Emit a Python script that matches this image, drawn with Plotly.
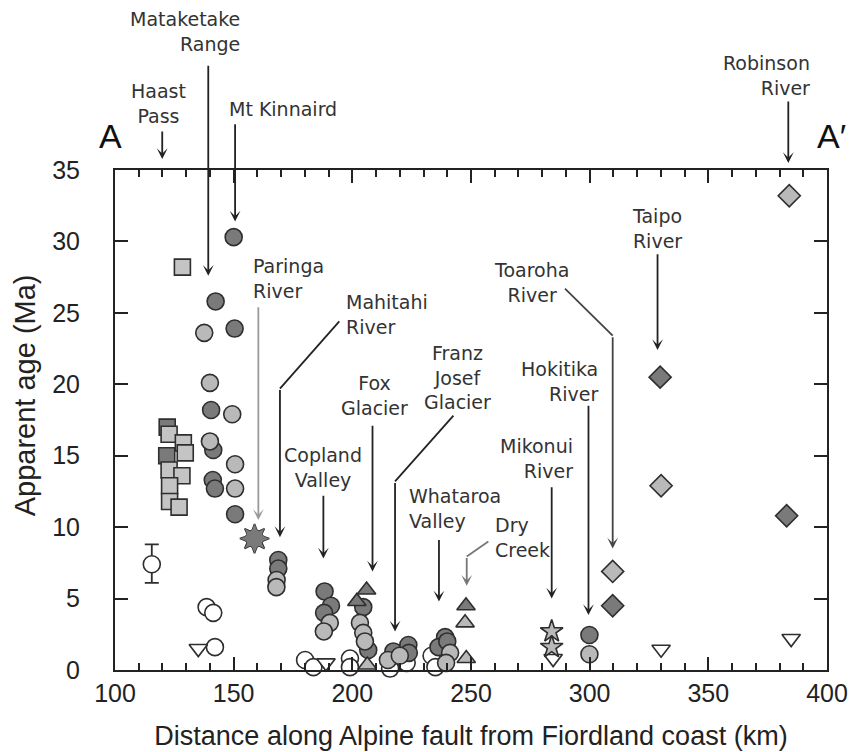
import plotly.graph_objects as go

# ---------------- data (distance km, apparent age Ma) ----------------
sq_light_x = [128.4, 122.8, 128.8, 129.6, 122.8, 128.2, 123.0, 123.0, 127.0]
sq_light_y = [28.2, 16.5, 15.9, 15.2, 14.0, 13.6, 12.9, 11.8, 11.4]
sq_dark_x = [122.0, 121.8]
sq_dark_y = [17.0, 15.0]

circ_dark_x = [150.0, 142.4, 150.4, 140.5, 141.4, 141.2, 142.1, 150.6,
               168.8, 168.8, 188.3, 191.0, 188.1, 204.6, 206.7,
               217.3, 223.6, 223.8, 239.1, 236.3, 240.0, 299.9]
circ_dark_y = [30.3, 25.8, 23.9, 18.2, 15.4, 13.3, 12.7, 10.9,
               7.7, 7.1, 5.5, 4.5, 4.0, 4.4, 1.4,
               1.3, 1.75, 1.2, 2.3, 1.6, 2.0, 2.45]

circ_light_x = [137.6, 140.0, 149.4, 140.0, 150.6, 150.6, 168.1, 168.0,
                190.5, 188.0, 203.2, 204.6, 205.3, 215.0, 220.0,
                241.2, 239.5, 299.9]
circ_light_y = [23.6, 20.1, 17.9, 16.0, 14.4, 12.7, 6.3, 5.8,
                3.3, 2.7, 3.3, 2.6, 2.0, 0.7, 1.0,
                1.2, 0.5, 1.1]

circ_open_x = [138.6, 141.4, 142.1, 180.1, 183.6, 199.0, 199.0, 215.9, 222.9, 233.4, 235.0]
circ_open_y = [4.4, 4.0, 1.6, 0.7, 0.2, 0.8, 0.2, 0.1, 0.5, 1.0, 0.2]

errbar_x = [115.5]
errbar_y = [7.4]
errbar_plus = [1.4]
errbar_minus = [1.3]

invtri_open_x = [135.1, 188.9, 284.6, 330.1, 384.9]
invtri_open_y = [1.5, 0.5, 0.8, 1.45, 2.2]

tri_dark_x = [206.0, 201.9, 247.9]
tri_dark_y = [5.6, 4.8, 4.5]
tri_light_x = [206.3, 247.5, 248.0]
tri_light_y = [0.35, 3.3, 0.8]

dia_dark_x = [309.7, 329.7, 383.0]
dia_dark_y = [4.5, 20.5, 10.8]
dia_light_x = [309.7, 330.1, 384.1]
dia_light_y = [6.9, 12.9, 33.2]

star_dark_x = [158.8]
star_dark_y = [9.2]
star_light_x = [284.0, 284.0]
star_light_y = [2.7, 1.6]

x_ticks = [100, 150, 200, 250, 300, 350, 400]
y_ticks = [0, 5, 10, 15, 20, 25, 30, 35]

# locality labels placed inside the plot: (text, x, y, xanchor)
inner_labels = [
    ("Paringa<br>River", 157.3, 27.4, "left"),
    ("Mahitahi<br>River", 196.6, 24.9, "left"),
    ("Copland<br>Valley", 187.7, 14.2, "center"),
    ("Fox<br>Glacier", 209.4, 19.2, "center"),
    ("Franz<br>Josef<br>Glacier", 244.1, 20.5, "center"),
    ("Whataroa<br>Valley", 223.0, 11.3, "left"),
    ("Dry<br>Creek", 259.3, 9.3, "left"),
    ("Mikonui<br>River", 293.8, 14.8, "right"),
    ("Hokitika<br>River", 304.4, 20.2, "right"),
    ("Toaroha<br>River", 275.3, 27.1, "center"),
    ("Taipo<br>River", 328.2, 30.9, "center"),
]
# labels above the plot: (text, x (km), y (paper), xanchor)
outer_labels = [
    ("Mataketake<br>Range", 153.5, 1.277, "right"),
    ("Haast<br>Pass", 118.5, 1.134, "center"),
    ("Mt Kinnaird", 147.2, 1.122, "left"),
    ("Robinson<br>River", 393.7, 1.19, "right"),
]
# straight arrows: (head x, head y, tail x, tail y, colour)
arrows = [
    (139.3, 27.6, 139.3, 42.4, "#222"),   # Mataketake
    (150.6, 31.4, 150.6, 38.3, "#222"),   # Mt Kinnaird
    (160.4, 10.5, 160.4, 25.5, "#9a9a9a"),  # Paringa
    (169.5, 9.3, 169.5, 19.7, "#222"),    # Mahitahi
    (187.8, 7.8, 187.8, 12.3, "#222"),    # Copland
    (208.5, 6.9, 208.5, 17.2, "#222"),    # Fox
    (218.0, 2.7, 218.0, 13.2, "#222"),    # Franz Josef
    (236.5, 4.8, 236.5, 9.2, "#222"),     # Whataroa
    (248.2, 5.9, 248.2, 7.95, "#777"),    # Dry Creek
    (284.0, 5.0, 284.0, 12.9, "#222"),    # Mikonui
    (299.5, 3.85, 299.5, 18.6, "#222"),   # Hokitika
    (309.7, 8.5, 309.7, 23.4, "#444"),    # Toaroha
    (328.6, 22.4, 328.6, 29.2, "#222"),   # Taipo
]
# bent leader segments: (x0, y0, x1, y1, colour)
leaders = [
    (194.5, 24.4, 169.5, 19.7, "#222"),
    (242.6, 17.8, 218.0, 13.2, "#222"),
    (257.3, 9.0, 248.2, 7.95, "#777"),
    (289.6, 26.7, 309.7, 23.4, "#444"),
]

DARK = "#7a7a7a"
LIGHT = "#b9b9b9"
EDGE = "#2e2e2e"

fig = go.Figure()

def add(xs, ys, symbol, fill, size=17, lw=1.6):
    fig.add_trace(go.Scatter(
        x=xs, y=ys, mode="markers", cliponaxis=False, showlegend=False,
        hoverinfo="skip",
        marker=dict(symbol=symbol, size=size, color=fill,
                    line=dict(color=EDGE if lw > 0 else fill, width=lw))))

add(sq_dark_x, sq_dark_y, "square", DARK, 16)
add(sq_light_x, sq_light_y, "square", "#c4c4c4", 16)
add(circ_open_x, circ_open_y, "circle", "white")
add(circ_dark_x, circ_dark_y, "circle", DARK)
add(circ_light_x, circ_light_y, "circle", LIGHT)
add(invtri_open_x, invtri_open_y, "triangle-down", "white", 16)
add(tri_dark_x, tri_dark_y, "triangle-up", DARK, 16)
add(tri_light_x, tri_light_y, "triangle-up", LIGHT, 16)
add(dia_dark_x, dia_dark_y, "diamond", DARK, 17)
add(dia_light_x, dia_light_y, "diamond", LIGHT, 17)
# eight-pointed star = star-square + star-diamond (outlines first, then fills)
add(star_dark_x, star_dark_y, "star-square", DARK, 18)
add(star_dark_x, star_dark_y, "star-diamond", DARK, 21)
add(star_dark_x, star_dark_y, "star-square", DARK, 18, lw=0)
add(star_dark_x, star_dark_y, "star-diamond", DARK, 21, lw=0)
add(star_light_x, star_light_y, "star", LIGHT, 17)
fig.add_trace(go.Scatter(
    x=errbar_x, y=errbar_y, mode="markers", cliponaxis=False, showlegend=False,
    hoverinfo="skip",
    marker=dict(symbol="circle", size=17, color="white", line=dict(color=EDGE, width=1.6)),
    error_y=dict(type="data", array=errbar_plus, arrayminus=errbar_minus,
                 color=EDGE, thickness=1.8, width=7)))

LABEL_FONT = dict(family="DejaVu Sans", size=19, color="#333")

for txt, x, y, xa in inner_labels:
    fig.add_annotation(text=txt, x=x, y=y, xref="x", yref="y", xanchor=xa,
                       yanchor="middle", align=xa,
                       showarrow=False, font=LABEL_FONT)
for txt, x, y, xa in outer_labels:
    fig.add_annotation(text=txt, x=x, y=y, xref="x", yref="paper", xanchor=xa,
                       yanchor="middle", align=xa,
                       showarrow=False, font=LABEL_FONT)

for hx, hy, tx, ty, col in arrows:
    fig.add_annotation(x=hx, y=hy, ax=tx, ay=ty, xref="x", yref="y",
                       axref="x", ayref="y", text="", showarrow=True,
                       arrowhead=3, arrowsize=1, arrowwidth=1.8, arrowcolor=col,
                       standoff=0)

# arrows ending just above the frame (Haast Pass, Robinson River)
for hx, hy, dy in [(119.9, 1.022, -29), (383.7, 1.014, -63)]:
    fig.add_annotation(x=hx, y=hy, xref="x", yref="paper", ax=0, ay=dy,
                       text="", showarrow=True, arrowhead=3, arrowsize=1,
                       arrowwidth=1.8, arrowcolor="#222", standoff=0)

for x0, y0, x1, y1, col in leaders:
    fig.add_shape(type="line", x0=x0, y0=y0, x1=x1, y1=y1, xref="x", yref="y",
                  line=dict(color=col, width=1.8))

# section end labels
fig.add_annotation(text="A", x=-0.006, y=1.068, xref="paper", yref="paper",
                   xanchor="center", yanchor="middle",
                   showarrow=False, font=dict(family="Liberation Sans", size=34, color="#111"))
fig.add_annotation(text="A\u2032", x=1.007, y=1.068, xref="paper", yref="paper",
                   xanchor="center", yanchor="middle",
                   showarrow=False, font=dict(family="Liberation Sans", size=34, color="#111"))

# y-axis title (placed slightly above the axis centre as in the original)
fig.add_annotation(text="Apparent age (Ma)", x=-0.126, y=0.55, xref="paper", yref="paper",
                   xanchor="center", yanchor="middle", textangle=-90, showarrow=False,
                   font=dict(family="Liberation Sans", size=29, color="#222"))

AX_FONT = dict(family="Liberation Sans", size=25, color="#222")
fig.update_layout(
    width=849, height=752,
    margin=dict(l=115, r=22, t=170, b=82, autoexpand=False),
    paper_bgcolor="white", plot_bgcolor="white",
    xaxis=dict(range=[100, 400], tickvals=x_ticks, ticks="inside", ticklen=13,
               tickwidth=2, tickcolor="#222", showline=True, linecolor="#222",
               linewidth=2, mirror="allticks", showgrid=False, zeroline=False,
               tickfont=AX_FONT, ticklabelstandoff=0, automargin=False,
               minor=dict(ticks="inside", dtick=10, ticklen=7, tickwidth=1.8,
                          tickcolor="#222", showgrid=False),
               title=dict(text="Distance along Alpine fault from Fiordland coast (km)",
                          font=dict(family="Liberation Sans", size=27, color="#222"),
                          standoff=20)),
    yaxis=dict(range=[0, 35], tickvals=y_ticks, ticks="inside", ticklen=13,
               tickwidth=2, tickcolor="#222", showline=True, linecolor="#222",
               linewidth=2, mirror="allticks", showgrid=False, zeroline=False,
               tickfont=AX_FONT, ticklabelstandoff=28, automargin=False),
)

fig.write_html("out.html", config={"displayModeBar": False},
               post_script="document.body.style.margin='0';document.body.style.overflow='hidden';")
